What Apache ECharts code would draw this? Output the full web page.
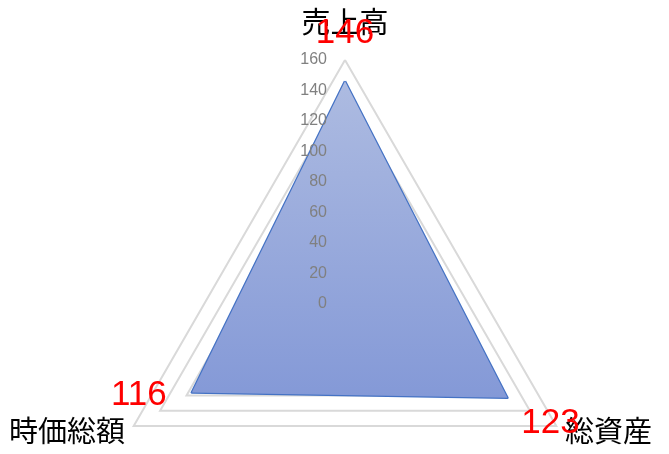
<!DOCTYPE html>
<html>
<head>
<meta charset="utf-8">
<script src="https://cdn.jsdelivr.net/npm/echarts@6/dist/echarts.min.js"></script>
<style>
  html, body { margin: 0; padding: 0; background: #fff; }
  #chart { width: 669px; height: 454px; }
</style>
</head>
<body>
<div id="chart"></div>
<script>
// indicators in ECharts order (top, then counter-clockwise)
const indicatorNames = ['売上高', '時価総額', '総資産'];
const values = [146, 116, 123];
const axisMax = 160;
const axisStep = 20;

// label offsets per point (rich text padding: top, right, bottom, left)
const labelPads = [
  [0, 0, 97, 0],
  [6, 106, 0, 0],
  [52, 0, 0, 86]
];

const chart = echarts.init(document.getElementById('chart'));

const rich = {};
labelPads.forEach((p, i) => {
  rich['p' + i] = {
    color: '#ff0000',
    fontSize: 35,
    fontFamily: 'Liberation Sans, Arial, sans-serif',
    padding: p
  };
});

const radarBase = {
  center: [345, 304],
  radius: 244,
  startAngle: 90,
  shape: 'polygon',
  splitNumber: axisMax / axisStep,
  axisLine: { show: false },
  axisTick: { show: false },
  splitArea: { show: false }
};

chart.setOption({
  animation: false,
  radar: [
    // grid lines, under the series
    Object.assign({}, radarBase, {
      indicator: indicatorNames.map((name) => ({ name, min: 0, max: axisMax })),
      axisName: {
        color: '#000',
        fontSize: 29,
        fontFamily: 'Noto Sans CJK JP',
        formatter: (name) => (name === indicatorNames[0] ? `{top|${name}}` : name),
        rich: {
          top: {
            color: '#000',
            fontSize: 29,
            fontFamily: 'Noto Sans CJK JP',
            padding: [0, 0, 14, 0]
          }
        }
      },
      nameGap: 10,
      axisLabel: { show: false },
      splitLine: {
        lineStyle: { color: '#d9d9d9', width: 2 }
      }
    }),
    // tick labels, above the series
    Object.assign({}, radarBase, {
      z: 5,
      indicator: indicatorNames.map((name, i) => ({
        name,
        min: 0,
        max: axisMax,
        axisLabel: { show: i === 0 }
      })),
      axisName: { show: false },
      axisLabel: {
        show: false,
        color: '#808080',
        fontSize: 16,
        fontFamily: 'Liberation Sans, Arial, sans-serif',
        margin: 18
      },
      splitLine: { show: false }
    })
  ],
  series: [
    {
      type: 'radar',
      radarIndex: 0,
      z: 2,
      symbol: 'circle',
      symbolSize: 1,
      itemStyle: { color: '#4472c4' },
      data: [
        {
          value: values,
          lineStyle: { color: '#4472c4', width: 2.5 },
          areaStyle: {
            opacity: 1,
            color: new echarts.graphic.LinearGradient(0, 0, 0, 1, [
              { offset: 0, color: '#adbbe1' },
              { offset: 1, color: '#8499d7' }
            ])
          },
          label: {
            show: true,
            position: 'inside',
            formatter: (p) => {
              const i = values.indexOf(p.value);
              return `{p${i}|${p.value}}`;
            },
            rich
          }
        }
      ]
    }
  ]
});
</script>
</body>
</html>
